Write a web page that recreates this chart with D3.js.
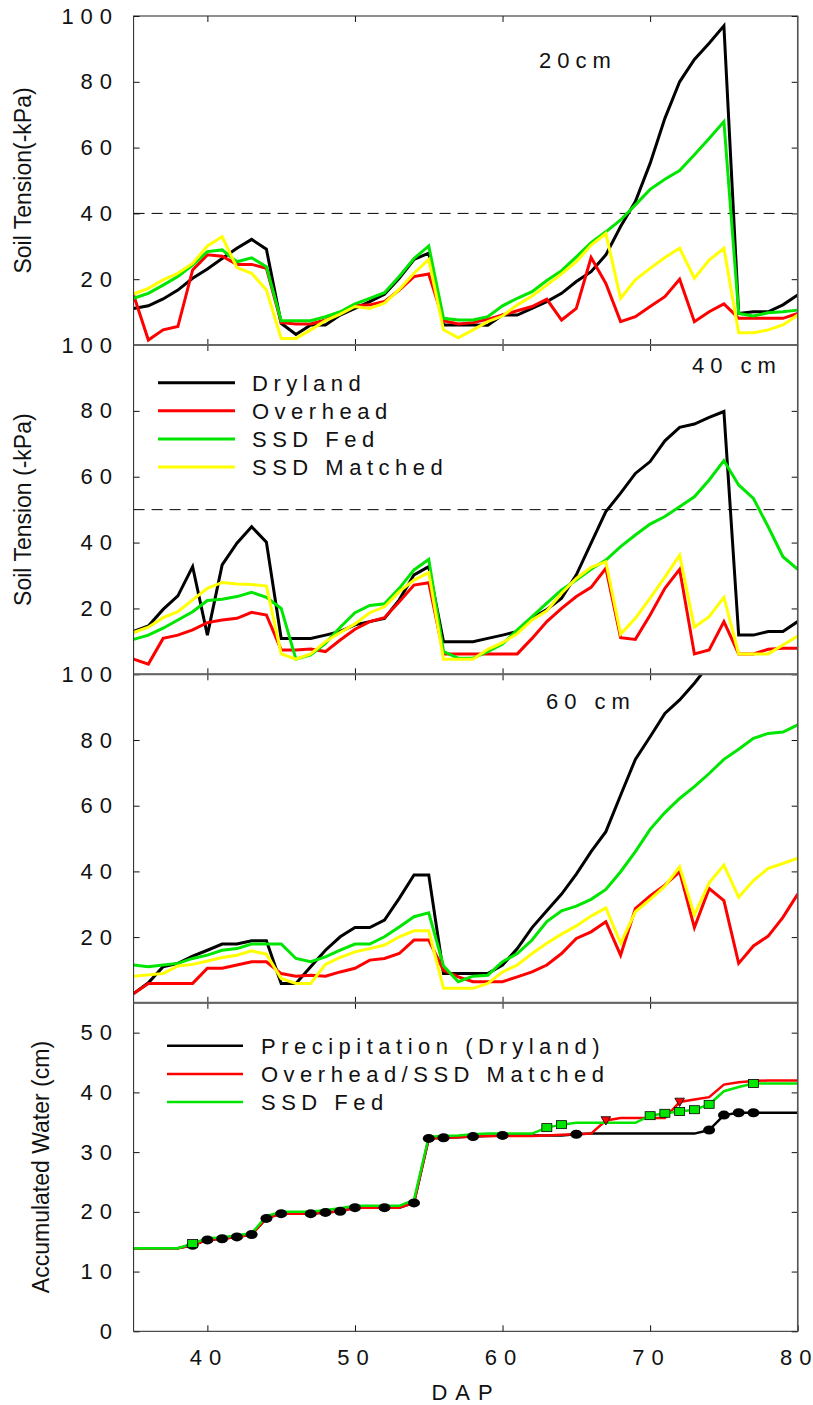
<!DOCTYPE html>
<html>
<head>
<meta charset="utf-8">
<script src="https://cdn.jsdelivr.net/npm/d3@7"></script>
<style>
  body { margin: 0; background: #fff; }
  svg { display: block; font-family: "Liberation Sans", Arial, sans-serif; }
</style>
</head>
<body>
<svg id="chart" width="813" height="1405"></svg>
<script>
// days after planting
var days = [35,36,37,38,39,40,41,42,43,44,45,46,47,48,49,50,51,52,53,54,55,56,57,
            58,59,60,61,62,63,64,65,66,67,68,69,70,71,72,73,74,75,76,77,78,79,80];

// soil tension, 20 cm
var dry20 = [11.1,11.9,14,16.7,20.3,23.1,26.3,29.4,32.1,29.1,6.6,3.2,6.1,6.1,9.1,11.1,13.2,15.4,20.3,26,
             27.9,6.1,6.1,6.1,6,9.1,9.1,11.1,13.2,15.7,19.3,22.3,27.4,36,43.6,55.2,68.9,80,86.8,91.7,97,
             9.6,10.1,10.1,12.2,15.2];
var ovh20 = [15.2,1.5,4.6,5.6,22.8,27.4,27,24.5,24.5,23.3,6.8,6.4,6.4,7.6,9.8,11.9,12.2,13.2,16.7,20.8,
             21.6,7.4,6.4,6.8,7.8,9.1,10.4,11.7,13.9,7.6,11.1,26.6,18.7,7.1,8.6,11.7,14.7,20,7.1,10.1,12.5,
             8.1,8.1,8.1,8.1,9.6];
var fed20 = [14.2,15.7,18.2,20.8,24.3,28.4,28.9,25.3,26.5,23.8,7.4,7.4,7.4,8.6,10.1,12.5,14.2,15.9,20.8,26.3,
             30.1,8.1,7.6,7.6,8.6,11.9,14.2,16.2,19.6,22.6,26.8,31.1,34.4,38,42.6,47.3,50.4,53,57.8,62.8,67.9,
             9.6,8.8,9.8,10.1,10.6];
var mat20 = [15.5,17.2,19.8,21.8,24.8,30.1,32.9,23.5,21.8,16.7,2,2,4.6,7.4,9.4,11.7,11.1,12.7,16.9,21.8,
             26,4.6,2.2,4.6,7.1,8.8,12.2,14.9,18.2,21.6,25.3,30.4,33.9,14.2,19.8,23.3,26.6,29.4,20.3,25.8,29.4,
             3.7,3.7,4.6,6.1,9.1];

// soil tension, 40 cm
var dry40 = [13,14.7,19.7,23.8,32.7,11.9,33.2,39.8,44.8,40.1,10.9,10.9,10.9,11.9,13,15,16,17,22.6,30.2,
             32.7,9.9,9.9,9.9,10.9,11.9,13,17,19.7,23.1,30.2,39.8,49.4,55,61,64.6,70.9,75,76,78,79.8,
             11.9,11.9,13,13,16];
var ovh40 = [4.6,3.1,10.9,11.9,13.5,15.7,16.5,17,18.8,18,7.4,7.4,7.7,6.9,10.4,13.7,16,17.2,22,27.1,
             27.8,6.2,6.2,6.2,6.2,6.2,6.2,10.9,16,20,23.6,26.4,32.2,11.1,10.6,18,26.1,31.9,6.2,7.4,16,
             6.2,6.2,7.6,7.9,7.9];
var fed40 = [10.6,11.9,14,16.5,19,22.4,22.8,23.6,24.9,23.4,20,4.6,5.9,9.4,14.3,18.7,20.9,21.4,26.1,31.7,
             34.9,6.9,4.9,4.9,6.9,9.2,13.5,17.5,21.6,25.6,28.6,31.9,34.7,38.8,42.3,45.6,47.9,50.9,53.9,59,64.9,
             57.5,53.4,44.8,35.7,31.9];
var mat40 = [12.7,14.3,17.2,19,22.6,26.1,27.9,27.4,27.3,26.8,6.2,4.6,6.2,9.9,12.7,15.3,18.7,20.5,25.1,28.6,
             30.9,4.6,4.6,4.6,7.6,9.6,12.4,16.5,19.3,24.6,29.1,32.5,34.2,12.2,17,23.1,29.5,36.2,14.3,17.5,23.4,
             6.2,6.2,6.2,8.9,11.6];

// soil tension, 60 cm (dryland leaves the plot after day 73)
var dry60 = [2.8,6.1,11,12,14.2,16,17.9,17.9,18.9,18.9,5.9,5.9,11,16,20.1,22.9,22.9,25.2,31.8,38.9,
             38.9,8.9,8.9,8.9,8.9,11.5,16.5,22.9,28,33.1,39.2,46,52.1,63.2,74.1,81,88.1,92.2,97.3,103];
var ovh60 = [2.8,5.9,5.9,5.9,5.9,10.5,10.5,11.5,12.5,12.5,8.9,8.1,8.4,8.1,9.4,10.5,13,13.5,15,19.1,
             19.1,9.9,7.9,6.4,6.4,6.4,7.9,9.4,11.5,15,19.6,21.6,24.7,14.5,28.7,32.5,35.8,39.9,22.9,34.8,31.1,
             12,17.3,20.3,26,33.1];
var fed60 = [11.5,11,11.5,12,13.5,14.5,16,16.5,17.9,17.9,17.9,13.5,12.5,14,16,17.9,17.9,20.1,23.1,26.2,
             27.4,11.2,6.4,8.1,8.4,12.5,15,19.1,24.7,28,29.4,31.5,34.5,39.9,46,52.8,57.9,62.2,65.8,69.8,74.1,
             77.2,80.5,82,82.4,84.6];
var mat60 = [8.1,8.5,8.9,11.2,11.7,12.7,13.8,14.5,15.8,14.8,7.4,5.9,5.9,11.7,13.8,15.5,16.5,17.6,20.1,21.9,
             21.9,4.4,4.4,4.4,5.9,9.4,11.5,15,18.1,20.9,23.4,26.4,28.9,18.1,27.7,31.5,35.5,41.4,26.7,36.5,41.9,
             32.1,37.2,40.9,42.4,44];

// accumulated water (cm)
var accPrecip = [13.9,13.9,13.9,13.9,14.4,15.3,15.5,15.8,16.2,18.9,19.7,19.7,19.7,19.9,20.1,20.7,20.7,20.7,20.7,21.5,
                 32.3,32.4,32.5,32.6,32.7,32.8,32.8,32.8,32.8,32.8,33,33.1,33.1,33.1,33.1,33.1,33.1,33.1,33.1,33.7,36.2,
                 36.6,36.6,36.6,36.6,36.6];
var accOverhead = [13.9,13.9,13.9,13.9,14.4,15.3,15.5,15.8,16.2,18.9,19.7,19.7,19.7,19.9,20.1,20.7,20.7,20.7,20.7,21.5,
                   32.3,32.4,32.5,32.6,32.7,32.7,32.7,32.7,32.8,32.9,33,33.1,35.3,35.7,35.7,35.7,35.7,38.4,38.8,39.2,41.3,
                   41.7,41.9,42,42,42];
var accFed = [13.9,13.9,13.9,13.9,14.7,15.6,15.7,16.1,16.4,19.3,20,20,20,20.3,20.6,21,21,21,21,22,
              32.6,32.7,32.8,33,33.1,33.1,33.1,33.1,34.1,34.6,34.9,34.9,34.9,34.9,34.9,36.1,36.5,36.8,37.1,38,40.2,
              40.9,41.5,41.5,41.5,41.5];
var rainDays = [39,40,41,42,43,44,45,47,48,49,50,52,54,55,56,58,60,65,74,75,76,77];
var fedDays = [39,63,64,70,71,72,73,74,77];
var ovhDays = [67,72];

var tensionTicks = [20,40,60,80,100];
var waterTicks = [0,10,20,30,40,50];
var dapTicks = [40,50,60,70,80];

var GREEN = "#00e600", YELLOW = "#ffff00", RED = "#ff0000", BLACK = "#000000";

var svg = d3.select("#chart");
var left = 133.6, right = 797.7;
var x = d3.scaleLinear().domain([35, 80]).range([left, right]);

function pairs(vals) {
  return vals.map(function (v, i) { return [days[i], v]; });
}

// spread the characters apart without the trailing gap letter-spacing leaves
function spread(sel, ls) {
  sel.each(function () {
    var t = d3.select(this), s = t.text();
    t.text(null);
    s.split("").forEach(function (ch, i) {
      t.append("tspan").style("letter-spacing", i < s.length - 1 ? ls + "px" : "0px").text(ch);
    });
  });
}

var panels = [
  { top: 16, bottom: 345, max: 100, ticks: tensionTicks, title: "Soil Tension(-kPa)",
    series: [[dry20, BLACK], [ovh20, RED], [fed20, GREEN], [mat20, YELLOW]], dash: 40,
    label: { text: "20cm", x: 539, y: 68 } },
  { top: 345, bottom: 674.3, max: 100, ticks: tensionTicks, title: "Soil Tension (-kPa)",
    series: [[dry40, BLACK], [ovh40, RED], [fed40, GREEN], [mat40, YELLOW]], dash: 50,
    label: { text: "40 cm", x: 692, y: 373 } },
  { top: 674.3, bottom: 1002.8, max: 100, ticks: tensionTicks, title: "",
    series: [[dry60, BLACK], [ovh60, RED], [fed60, GREEN], [mat60, YELLOW]],
    label: { text: "60 cm", x: 546, y: 709 } },
  { top: 1002.8, bottom: 1331.3, max: 55, ticks: waterTicks, title: "Accumulated Water (cm)",
    series: [[accPrecip, BLACK], [accOverhead, RED], [accFed, GREEN]] }
];

panels.forEach(function (p, pi) {
  var y = d3.scaleLinear().domain([0, p.max]).range([p.bottom, p.top]);
  p.y = y;
  var g = svg.append("g");

  var clipId = "clip" + pi;
  svg.append("clipPath").attr("id", clipId)
    .append("rect").attr("x", left).attr("y", p.top)
    .attr("width", right - left).attr("height", p.bottom - p.top);

  if (p.dash) {
    g.append("line")
      .attr("x1", left).attr("x2", right)
      .attr("y1", y(p.dash)).attr("y2", y(p.dash))
      .attr("stroke", "#000").attr("stroke-width", 1)
      .attr("stroke-dasharray", "11,7");
  }

  var line = d3.line().x(function (d) { return x(d[0]); }).y(function (d) { return y(d[1]); });
  var lw = pi === 3 ? 2.5 : 3;
  p.series.forEach(function (s) {
    g.append("path")
      .attr("clip-path", "url(#" + clipId + ")")
      .attr("d", line(pairs(s[0])))
      .attr("fill", "none")
      .attr("stroke", s[1])
      .attr("stroke-width", lw);
  });

  // axes, ticks pointing inward
  var ay = g.append("g").attr("transform", "translate(" + left + ",0)")
    .call(d3.axisLeft(y).tickValues(p.ticks).tickSize(-6).tickPadding(14.5));
  g.append("g").attr("transform", "translate(" + right + ",0)")
    .call(d3.axisRight(y).tickValues(p.ticks).tickSize(-6).tickFormat(""));
  g.append("g").attr("transform", "translate(0," + p.top + ")")
    .call(d3.axisTop(x).tickValues([40, 50, 60, 70]).tickSize(-6).tickFormat(""));
  var ax = g.append("g").attr("transform", "translate(0," + p.bottom + ")")
    .call(d3.axisBottom(x).tickValues(pi === 3 ? dapTicks : [40, 50, 60, 70]).tickSize(-6)
      .tickPadding(18.5).tickFormat(pi === 3 ? d3.format("d") : ""));

  [ay, ax].forEach(function (a) {
    a.selectAll("text")
      .attr("fill", "#111")
      .style("font-size", "22px")
      .style("font-family", "'Liberation Sans', Arial, sans-serif");
  });
  ay.selectAll("text").style("letter-spacing", "7px");
  ax.selectAll("text").attr("dx", -2.5);
  spread(ax.selectAll("text"), 7);
  g.selectAll(".domain").remove();
  g.selectAll(".tick line").attr("stroke", "#111");

  // frame
  g.append("rect")
    .attr("x", left).attr("y", p.top)
    .attr("width", right - left).attr("height", p.bottom - p.top)
    .attr("fill", "none").attr("stroke", "#222").attr("stroke-width", 1);

  if (p.title) {
    var tx = pi === 3 ? 49 : 31;
    svg.append("text")
      .attr("transform", "translate(" + tx + "," + ((p.top + p.bottom) / 2) + ") rotate(-90)")
      .attr("text-anchor", "middle")
      .style("font-size", "23px")
      .attr("fill", "#111")
      .text(p.title);
  }

  if (p.label) {
    svg.append("text")
      .attr("x", p.label.x).attr("y", p.label.y)
      .style("font-size", "22px")
      .style("letter-spacing", "6px")
      .attr("fill", "#111")
      .text(p.label.text);
  }
});

// shared boundaries between panels drawn heavier and grey
[345, 674.3, 1002.8].forEach(function (by) {
  svg.append("line")
    .attr("x1", left).attr("x2", right).attr("y1", by).attr("y2", by)
    .attr("stroke", "#666").attr("stroke-width", 2);
});
svg.append("line").attr("x1", right).attr("x2", right).attr("y1", 16).attr("y2", 1331.3)
  .attr("stroke", "#555").attr("stroke-width", 1.5);

// markers on accumulated water panel
var p4 = panels[3];
function valAt(arr, d) { return arr[days.indexOf(d)]; }
var mg = svg.append("g");
mg.selectAll("ellipse").data(rainDays).enter().append("ellipse")
  .attr("cx", function (d) { return x(d); })
  .attr("cy", function (d) { return p4.y(valAt(accPrecip, d)); })
  .attr("rx", 6).attr("ry", 4.5)
  .attr("fill", "#000");
mg.selectAll("rect.fed").data(fedDays).enter().append("rect")
  .attr("class", "fed")
  .attr("x", function (d) { return x(d) - 5; })
  .attr("y", function (d) { return p4.y(valAt(accFed, d)) - 4; })
  .attr("width", 10).attr("height", 8)
  .attr("fill", GREEN).attr("stroke", "#000").attr("stroke-width", 0.8);
mg.selectAll("path.ovh").data(ovhDays).enter().append("path")
  .attr("class", "ovh")
  .attr("d", d3.symbol().type(d3.symbolTriangle).size(40))
  .attr("transform", function (d) {
    return "translate(" + x(d) + "," + (p4.y(valAt(accOverhead, d)) - 1) + ") rotate(180)";
  })
  .attr("fill", RED).attr("stroke", "#000").attr("stroke-width", 0.8);

// legends
var leg1 = [["Dryland", BLACK], ["Overhead", RED], ["SSD Fed", GREEN], ["SSD Matched", YELLOW]];
var leg1Y = [382.7, 410.7, 439, 467];
leg1.forEach(function (l, i) {
  svg.append("line").attr("x1", 158).attr("x2", 235)
    .attr("y1", leg1Y[i]).attr("y2", leg1Y[i])
    .attr("stroke", l[1]).attr("stroke-width", 3);
  svg.append("text").attr("x", 252).attr("y", leg1Y[i] + 8)
    .style("font-size", "22px").style("letter-spacing", "5.5px")
    .attr("fill", "#111").text(l[0]);
});

var leg4 = [["Precipitation (Dryland)", BLACK], ["Overhead/SSD Matched", RED], ["SSD Fed", GREEN]];
var leg4Y = [1045.7, 1074, 1102];
leg4.forEach(function (l, i) {
  svg.append("line").attr("x1", 167).attr("x2", 243)
    .attr("y1", leg4Y[i]).attr("y2", leg4Y[i])
    .attr("stroke", l[1]).attr("stroke-width", 2.5);
  svg.append("text").attr("x", 261).attr("y", leg4Y[i] + 8)
    .style("font-size", "22px").style("letter-spacing", "5.5px")
    .attr("fill", "#111").text(l[0]);
});

// x axis title
svg.append("text")
  .attr("x", 466).attr("y", 1400)
  .attr("text-anchor", "middle")
  .style("font-size", "22px").style("letter-spacing", "8px")
  .attr("fill", "#111").text("DAP");
</script>
</body>
</html>
